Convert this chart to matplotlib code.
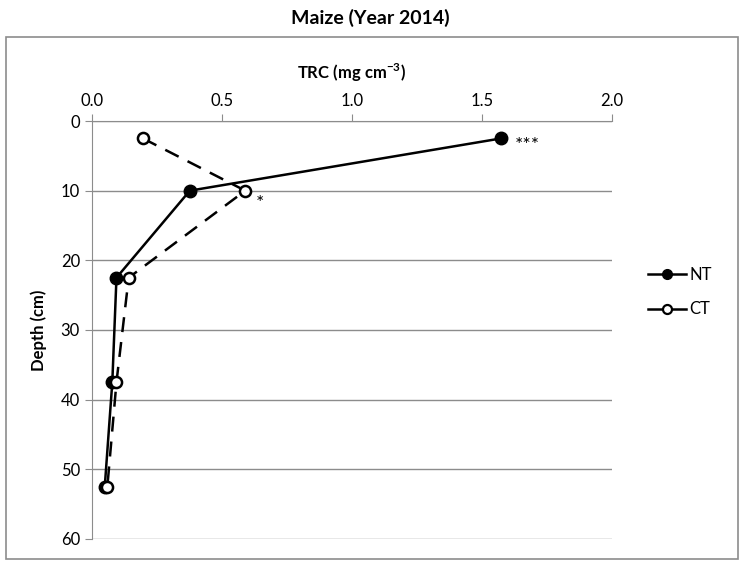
import matplotlib.pyplot as plt
from matplotlib.patches import Rectangle
from matplotlib.lines import Line2D

plt.rcParams['font.family'] = ['Lato', 'DejaVu Sans']

# 数据
depth = [2.5, 10, 22.5, 37.5, 52.5]
nt = [1.573, 0.377, 0.095, 0.079, 0.05]
ct = [0.197, 0.59, 0.142, 0.095, 0.06]
x_ticks = [0.0, 0.5, 1.0, 1.5, 2.0]
y_ticks = [0, 10, 20, 30, 40, 50, 60]

grey = '#8c8c8c'

fig = plt.figure(figsize=(7.4, 5.63), dpi=100)
ax = fig.add_axes([0.124, 0.043, 0.703, 0.742])

# 外框（标题下方）
fig.patches.append(Rectangle((6 / 740, 4 / 563), 732 / 740, 522 / 563,
                             transform=fig.transFigure, fill=False,
                             edgecolor=grey, linewidth=1.2))

ax.plot(nt, depth, '-', color='black', linewidth=1.8, marker='o',
        markersize=9, markerfacecolor='black', markeredgecolor='black')
ax.plot(ct, depth, '--', color='black', linewidth=1.8, dashes=(6, 4), marker='o',
        markersize=8, markerfacecolor='white', markeredgecolor='black',
        markeredgewidth=1.8)

ax.text(nt[0] + 0.055, depth[0] + 1.0, '***', fontsize=14, va='center')
ax.text(ct[1] + 0.04, depth[1] + 1.9, '*', fontsize=14, va='center')

ax.set_xlim(0, 2.0)
ax.set_ylim(60, 0)
ax.set_xticks(x_ticks)
ax.set_xticklabels([f'{v:.1f}' for v in x_ticks])
ax.set_yticks(y_ticks)
ax.xaxis.tick_top()
ax.xaxis.set_label_position('top')
ax.tick_params(axis='both', labelsize=12, color=grey, length=5)
ax.tick_params(axis='x', pad=4)
ax.yaxis.grid(True, color=grey, linewidth=1)
ax.set_axisbelow(True)
for s in ['right', 'bottom']:
    ax.spines[s].set_visible(False)
for s in ['left', 'top']:
    ax.spines[s].set_color(grey)

ax.set_xlabel(r'TRC (mg cm$^{\mathregular{-3}}$)', fontsize=12, fontweight='bold', labelpad=10)
ax.set_ylabel('Depth (cm)', fontsize=12, fontweight='bold', labelpad=10)
fig.suptitle('Maize (Year 2014)', fontsize=14, fontweight='bold', y=0.985)

# 图例（实线短线）
handles = [
    Line2D([], [], color='black', linewidth=1.8, marker='o', markersize=7,
           markerfacecolor='black', label='NT'),
    Line2D([], [], color='black', linewidth=1.8, marker='o', markersize=6.5,
           markerfacecolor='white', markeredgewidth=1.6, label='CT'),
]
ax.legend(handles=handles, loc='center left', bbox_to_anchor=(1.04, 0.59),
          frameon=False, fontsize=12, handlelength=2.3, handletextpad=0.2,
          labelspacing=1.1)

plt.savefig('out.png', dpi=100)
